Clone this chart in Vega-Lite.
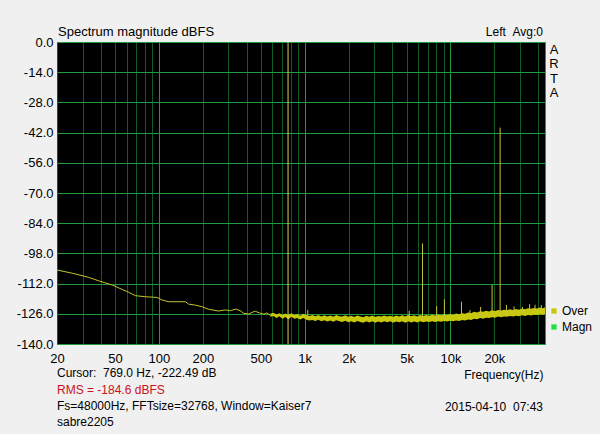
{
  "$schema": "https://vega.github.io/schema/vega-lite/v6.json",
  "width": 488,
  "height": 302,
  "autosize": {"type": "none"},
  "padding": {"left": 57, "top": 42, "right": 55, "bottom": 90},
  "background": "#f0f0f0",
  "config": {
    "view": {"fill": "#000000", "stroke": "#1f9e3c", "strokeWidth": 1},
    "font": "Liberation Sans",
    "axis": {"labelFont": "Liberation Sans", "labelFontSize": 13, "labelColor": "#000000", "ticks": false, "tickSize": 0, "domain": false, "labelFlush": false, "labelOverlap": false, "labelBound": false, "gridWidth": 1},
    "text": {"font": "Liberation Sans", "fontSize": 12, "color": "#000000"}
  },
  "datasets": {
    "low": [
      {"f": 20, "db": -105.7}, {"f": 25.5, "db": -107.2}, {"f": 33, "db": -109.1}, {"f": 38.6, "db": -110.7},
      {"f": 48, "db": -112.7}, {"f": 56, "db": -114.7}, {"f": 62, "db": -116.0}, {"f": 69, "db": -117.6},
      {"f": 81, "db": -118.1}, {"f": 97, "db": -118.4}, {"f": 105, "db": -119.6}, {"f": 117, "db": -120.4},
      {"f": 152, "db": -120.4}, {"f": 160, "db": -121.5}, {"f": 178, "db": -122.0}, {"f": 197, "db": -122.7},
      {"f": 219, "db": -123.9}, {"f": 256, "db": -124.7}, {"f": 286, "db": -124.2}, {"f": 309, "db": -124.6},
      {"f": 336, "db": -123.8}, {"f": 360, "db": -124.5}, {"f": 382, "db": -125.8}, {"f": 413, "db": -126.1},
      {"f": 438, "db": -125.3}, {"f": 458, "db": -124.8}, {"f": 490, "db": -125.6}, {"f": 525, "db": -126.2},
      {"f": 550, "db": -125.6}, {"f": 582, "db": -126.7}
    ],
    "band": [
      {"f": 582, "db": -127.4, "db2": -126.0}, {"f": 610, "db": -127.0, "db2": -125.5}, {"f": 640, "db": -127.9, "db2": -126.3},
      {"f": 671, "db": -127.1, "db2": -125.8}, {"f": 703, "db": -128.3, "db2": -126.6}, {"f": 737, "db": -127.5, "db2": -125.9},
      {"f": 773, "db": -128.6, "db2": -126.5}, {"f": 810, "db": -127.4, "db2": -125.7}, {"f": 850, "db": -128.3, "db2": -126.6},
      {"f": 891, "db": -128.0, "db2": -126.1}, {"f": 934, "db": -128.7, "db2": -126.9}, {"f": 979, "db": -127.9, "db2": -126.0},
      {"f": 1027, "db": -128.8, "db2": -126.6}, {"f": 1076, "db": -129.1, "db2": -127.0}, {"f": 1129, "db": -128.9, "db2": -126.6},
      {"f": 1183, "db": -129.3, "db2": -127.1}, {"f": 1241, "db": -128.8, "db2": -126.5}, {"f": 1301, "db": -129.4, "db2": -127.2},
      {"f": 1364, "db": -129.0, "db2": -126.7}, {"f": 1430, "db": -129.6, "db2": -127.3}, {"f": 1499, "db": -129.1, "db2": -126.8},
      {"f": 1572, "db": -129.7, "db2": -127.4}, {"f": 1648, "db": -129.0, "db2": -126.6}, {"f": 1728, "db": -129.5, "db2": -127.1},
      {"f": 1811, "db": -129.8, "db2": -127.3}, {"f": 1899, "db": -129.2, "db2": -126.7}, {"f": 1991, "db": -129.9, "db2": -127.4},
      {"f": 2088, "db": -129.4, "db2": -126.9}, {"f": 2189, "db": -130.0, "db2": -127.5}, {"f": 2295, "db": -129.3, "db2": -126.8},
      {"f": 2406, "db": -129.8, "db2": -127.3}, {"f": 2523, "db": -130.1, "db2": -127.6}, {"f": 2645, "db": -129.5, "db2": -126.9},
      {"f": 2773, "db": -130.0, "db2": -127.4}, {"f": 2907, "db": -129.4, "db2": -126.8}, {"f": 3048, "db": -130.1, "db2": -127.5},
      {"f": 3196, "db": -129.6, "db2": -127.0}, {"f": 3350, "db": -130.0, "db2": -127.3}, {"f": 3513, "db": -129.5, "db2": -126.8},
      {"f": 3683, "db": -129.9, "db2": -127.3}, {"f": 3861, "db": -129.5, "db2": -126.9}, {"f": 4048, "db": -130.1, "db2": -127.4},
      {"f": 4245, "db": -129.6, "db2": -126.8}, {"f": 4450, "db": -129.9, "db2": -127.2}, {"f": 4666, "db": -129.5, "db2": -126.7},
      {"f": 4892, "db": -130.1, "db2": -127.3}, {"f": 5129, "db": -129.5, "db2": -126.6}, {"f": 5377, "db": -130.0, "db2": -127.1},
      {"f": 5638, "db": -129.6, "db2": -126.7}, {"f": 5911, "db": -130.0, "db2": -127.2}, {"f": 6197, "db": -129.5, "db2": -126.5},
      {"f": 6498, "db": -129.9, "db2": -127.0}, {"f": 6812, "db": -129.6, "db2": -126.6}, {"f": 7142, "db": -129.8, "db2": -126.9},
      {"f": 7488, "db": -129.4, "db2": -126.4}, {"f": 7851, "db": -129.8, "db2": -126.8}, {"f": 8231, "db": -129.4, "db2": -126.3},
      {"f": 8630, "db": -129.7, "db2": -126.7}, {"f": 9048, "db": -129.3, "db2": -126.2}, {"f": 9487, "db": -129.6, "db2": -126.6},
      {"f": 9946, "db": -129.2, "db2": -126.1}, {"f": 10428, "db": -129.5, "db2": -126.5}, {"f": 10933, "db": -129.1, "db2": -125.9},
      {"f": 11463, "db": -129.3, "db2": -126.2}, {"f": 12018, "db": -128.9, "db2": -125.7}, {"f": 12601, "db": -129.1, "db2": -126.0},
      {"f": 13211, "db": -128.6, "db2": -125.4}, {"f": 13851, "db": -128.9, "db2": -125.7}, {"f": 14522, "db": -128.3, "db2": -125.1},
      {"f": 15226, "db": -128.5, "db2": -125.4}, {"f": 15963, "db": -128.0, "db2": -124.8}, {"f": 16737, "db": -128.3, "db2": -125.1},
      {"f": 17547, "db": -127.8, "db2": -124.6}, {"f": 18398, "db": -128.0, "db2": -124.9}, {"f": 19289, "db": -127.6, "db2": -124.4},
      {"f": 20224, "db": -127.8, "db2": -124.7}, {"f": 21203, "db": -127.3, "db2": -124.2}, {"f": 22231, "db": -127.6, "db2": -124.5},
      {"f": 23308, "db": -127.2, "db2": -124.1}, {"f": 24437, "db": -127.4, "db2": -124.4}, {"f": 25621, "db": -127.0, "db2": -123.9},
      {"f": 26862, "db": -127.3, "db2": -124.2}, {"f": 28164, "db": -126.9, "db2": -123.8}, {"f": 29528, "db": -127.1, "db2": -124.1},
      {"f": 30959, "db": -126.7, "db2": -123.6}, {"f": 32459, "db": -127.0, "db2": -123.9}, {"f": 34031, "db": -126.6, "db2": -123.4},
      {"f": 35680, "db": -126.8, "db2": -123.7}, {"f": 37409, "db": -126.4, "db2": -123.3}, {"f": 39221, "db": -126.6, "db2": -123.6},
      {"f": 41122, "db": -126.2, "db2": -123.1}, {"f": 43114, "db": -126.4, "db2": -123.4}, {"f": 44500, "db": -126.1, "db2": -123.0}
    ],
    "spikes": [
      {"f": 1050, "db": -127.5, "db2": -124.2}, {"f": 5210, "db": -128.5, "db2": -124.6},
      {"f": 6430, "db": -128.5, "db2": -93.4}, {"f": 8040, "db": -128.3, "db2": -122.4},
      {"f": 9080, "db": -128.3, "db2": -119.3}, {"f": 11900, "db": -128.0, "db2": -120.4},
      {"f": 13600, "db": -127.5, "db2": -124.3}, {"f": 16100, "db": -127.5, "db2": -122.8},
      {"f": 19300, "db": -127.0, "db2": -112.6}, {"f": 21900, "db": -127.0, "db2": -39.7},
      {"f": 24200, "db": -126.5, "db2": -121.9}, {"f": 27300, "db": -126.0, "db2": -122.6},
      {"f": 31200, "db": -125.8, "db2": -122.8}, {"f": 34900, "db": -125.5, "db2": -121.5},
      {"f": 38000, "db": -125.5, "db2": -121.8}, {"f": 42000, "db": -125.2, "db2": -121.9}
    ]
  },
  "encoding": {
    "x": {"field": "f", "type": "quantitative",
      "scale": {"type": "log", "domain": [20, 44500], "nice": false},
      "axis": {
        "values": [20,30,40,50,60,70,80,90,100,200,300,400,500,600,700,800,900,1000,2000,3000,4000,5000,6000,7000,8000,9000,10000,20000,30000,40000],
        "labelExpr": "indexof([20,50,100,200,500,1000,2000,5000,10000,20000], datum.value) >= 0 ? (datum.value >= 1000 ? (datum.value / 1000) + 'k' : '' + datum.value) : ''",
        "grid": true,
        "gridColor": {"condition": {"test": "datum.value == 100 || datum.value == 1000 || datum.value == 10000", "value": "#1f9a3c"}, "value": "#125a23"},
        "labelPadding": 8,
        "title": "Frequency(Hz)", "titleFont": "Liberation Sans", "titleFontSize": 12, "titleFontWeight": "normal", "titleColor": "#000000",
        "titleX": 486, "titleY": 34, "titleAlign": "right", "titleBaseline": "alphabetic"
      }
    },
    "y": {"field": "db", "type": "quantitative",
      "scale": {"domain": [-140, 0], "nice": false},
      "axis": {
        "values": [0,-14,-28,-42,-56,-70,-84,-98,-112,-126,-140],
        "labelExpr": "(datum.value < 0 ? '-' : '') + format(abs(datum.value), '.1f')",
        "grid": true, "gridColor": "#1f9a3c", "labelPadding": 4, "title": null
      }
    }
  },
  "layer": [
    {
      "data": {"name": "band"},
      "mark": {"type": "area", "clip": true},
      "encoding": {
        "y2": {"field": "db2"},
        "color": {"datum": "Over", "type": "nominal",
          "scale": {"domain": ["Over", "Magn"], "range": ["#c8c80c", "#22dd44"]},
          "legend": {"orient": "none", "legendX": 491, "legendY": 263, "title": null, "labelFont": "Liberation Sans", "labelFontSize": 12, "labelColor": "#000000", "symbolType": "square", "symbolSize": 28, "symbolStrokeWidth": 0, "labelOffset": 2, "rowPadding": 4, "padding": 0}
        }
      }
    },
    {
      "data": {"name": "low"},
      "mark": {"type": "line", "clip": true, "strokeWidth": 1, "color": "#c4c42a"},
      "encoding": {}
    },
    {
      "data": {"name": "spikes"},
      "mark": {"type": "rule", "clip": true, "strokeWidth": 1, "color": "#c8c240"},
      "encoding": {"y2": {"field": "db2"}}
    },
    {
      "data": {"values": [{"f": 769, "db": -140, "db2": 0}]},
      "mark": {"type": "rule", "strokeWidth": 1, "color": "#d6d04a"},
      "encoding": {"y2": {"field": "db2"}}
    },
    {
      "data": {"values": [{"f": 20, "db": 0, "t": "Spectrum magnitude dBFS"}]},
      "mark": {"type": "text", "align": "left", "baseline": "alphabetic", "dx": 1, "dy": -6.5, "fontSize": 13},
      "encoding": {"text": {"field": "t"}}
    },
    {
      "data": {"values": [{"f": 44500, "db": 0, "t": "Left\u00a0\u00a0Avg:0"}]},
      "mark": {"type": "text", "align": "right", "baseline": "alphabetic", "dx": -2, "dy": -6.5, "fontSize": 12},
      "encoding": {"text": {"field": "t"}}
    },
    {
      "data": {"values": [{"f": 44500, "db": 0, "t": "A\nR\nT\nA"}]},
      "mark": {"type": "text", "align": "center", "baseline": "alphabetic", "dx": 9, "dy": 12, "fontSize": 13, "lineBreak": "\n", "lineHeight": 14.3},
      "encoding": {"text": {"field": "t"}}
    },
    {
      "data": {"values": [{"f": 20, "db": -140, "t": "Cursor:\u00a0\u00a0769.0 Hz, -222.49 dB"}]},
      "mark": {"type": "text", "align": "left", "baseline": "alphabetic", "dy": 33, "fontSize": 12},
      "encoding": {"text": {"field": "t"}}
    },
    {
      "data": {"values": [{"f": 20, "db": -140, "t": "RMS = -184.6 dBFS"}]},
      "mark": {"type": "text", "align": "left", "baseline": "alphabetic", "dy": 50, "fontSize": 12, "color": "#cc1020"},
      "encoding": {"text": {"field": "t"}}
    },
    {
      "data": {"values": [{"f": 20, "db": -140, "t": "Fs=48000Hz, FFTsize=32768, Window=Kaiser7\nsabre2205"}]},
      "mark": {"type": "text", "align": "left", "baseline": "alphabetic", "dy": 66, "fontSize": 12, "lineBreak": "\n", "lineHeight": 16},
      "encoding": {"text": {"field": "t"}}
    },
    {
      "data": {"values": [{"f": 44500, "db": -140, "t": "2015-04-10\u00a0\u00a007:43"}]},
      "mark": {"type": "text", "align": "right", "baseline": "alphabetic", "dx": -2, "dy": 67, "fontSize": 12},
      "encoding": {"text": {"field": "t"}}
    }
  ]
}
